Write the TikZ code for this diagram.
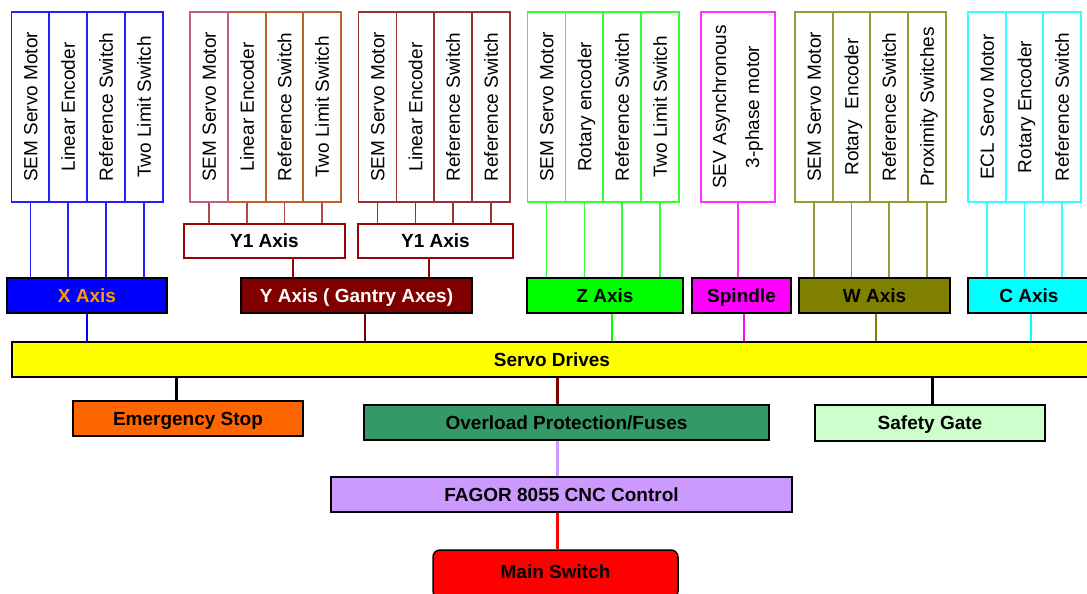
\documentclass[tikz,border=0pt]{standalone}
\usepackage{fontspec}
\setmainfont{Liberation Sans}
\definecolor{xcol}{HTML}{2020FF}
\definecolor{xfill}{HTML}{0000FF}
\definecolor{xtext}{HTML}{FF9900}
\definecolor{yapink}{HTML}{C06080}
\definecolor{yabrown}{HTML}{C0602A}
\definecolor{yaline}{HTML}{B04848}
\definecolor{ydark}{HTML}{990000}
\definecolor{yfill}{HTML}{800000}
\definecolor{ybcol}{HTML}{993333}
\definecolor{zcol}{HTML}{33FF33}
\definecolor{zfill}{HTML}{00FF00}
\definecolor{spcol}{HTML}{FF33FF}
\definecolor{spfill}{HTML}{FF00FF}
\definecolor{wcol}{HTML}{999933}
\definecolor{wfill}{HTML}{808000}
\definecolor{ccol}{HTML}{33FFFF}
\definecolor{cfill}{HTML}{00FFFF}
\definecolor{servofill}{HTML}{FFFF00}
\definecolor{emfill}{HTML}{FF6600}
\definecolor{ovfill}{HTML}{339966}
\definecolor{sgfill}{HTML}{CCFFCC}
\definecolor{fgfill}{HTML}{CC99FF}
\definecolor{msfill}{HTML}{FF0000}
\newcommand{\vtxt}[1]{\rotatebox{90}{\raisebox{0pt}[13.6pt][0pt]{#1}}}
\begin{document}
\begin{tikzpicture}[x=1pt,y=-1pt,
  every node/.style={font=\fontsize{19}{23}\selectfont},
  col/.style={draw, line width=1.5pt, minimum width=37.75pt,
    minimum height=190pt, inner sep=0pt},
  wire/.style={line width=1.2pt},
  axisbox/.style={draw=black, line width=1.5pt, minimum height=35pt, inner sep=0pt,
    text height=13.6pt, text depth=0pt,
    font=\fontsize{19}{23}\selectfont\bfseries},
  subbox/.style={draw=ydark, line width=2.2pt, fill=white, minimum height=34pt,
    inner sep=0pt, text height=13.6pt, text depth=0pt,
    font=\fontsize{19}{23}\selectfont\bfseries},
  feed/.style={line width=2pt},
  link/.style={line width=3pt}
]
\fill[white] (0,0) rectangle (1087,594);
\useasboundingbox (0,0) rectangle (1087,594);
\clip (0,0) rectangle (1087,594);

% ---------- X group ----------
\node[col, draw=xcol] (x1) at (30.5,107) {\vtxt{SEM Servo Motor}};
\node[col, draw=xcol] (x2) at (68,107) {\vtxt{Linear Encoder}};
\node[col, draw=xcol] (x3) at (106,107) {\vtxt{Reference Switch}};
\node[col, draw=xcol] (x4) at (144,107) {\vtxt{Two Limit Switch}};
\node[axisbox, fill=xfill, text=xtext, minimum width=160pt] (X) at (87,295.5) {X Axis};
\foreach \n in {x1,x2,x3,x4} \draw[wire, xcol] (\n.south) -- (\n.south |- X.north);

% ---------- Y group ----------
\node[col, draw=yabrown] (ya2) at (247,107) {\vtxt{Linear Encoder}};
\node[col, draw=yabrown] (ya3) at (284.5,107) {\vtxt{Reference Switch}};
\node[col, draw=yabrown] (ya4) at (322,107) {\vtxt{Two Limit Switch}};
\node[col, draw=yapink] (ya1) at (209,107) {\vtxt{SEM Servo Motor}};
\node[col, draw=ybcol] (yb1) at (377.5,107) {\vtxt{SEM Servo Motor}};
\node[col, draw=ybcol] (yb2) at (415.5,107) {\vtxt{Linear Encoder}};
\node[col, draw=ybcol] (yb3) at (453,107) {\vtxt{Reference Switch}};
\node[col, draw=ybcol] (yb4) at (491,107) {\vtxt{Reference Switch}};
\node[subbox, minimum width=161pt] (Y1a) at (264.5,241) {Y1 Axis};
\node[subbox, minimum width=155pt] (Y1b) at (435.5,241) {Y1 Axis};
\node[axisbox, fill=yfill, text=white, minimum width=231pt] (Y) at (356.5,295.5) {Y Axis ( Gantry Axes)};
\foreach \n in {ya1,ya2,ya3,ya4} \draw[wire, yaline] (\n.south) -- (\n.south |- Y1a.north);
\foreach \n in {yb1,yb2,yb3,yb4} \draw[wire, ybcol] (\n.south) -- (\n.south |- Y1b.north);
\draw[feed, ydark] ([xshift=28.5pt]Y1a.south) -- ([xshift=28.5pt]Y1a.south |- Y.north);
\draw[feed, ydark] ([xshift=-6.5pt]Y1b.south) -- ([xshift=-6.5pt]Y1b.south |- Y.north);

% ---------- Z group ----------
\node[col, draw=zcol] (z1) at (546.5,107) {\vtxt{SEM Servo Motor}};
\node[col, draw=zcol] (z2) at (584.5,107) {\vtxt{Rotary encoder}};
\node[col, draw=zcol] (z3) at (622,107) {\vtxt{Reference Switch}};
\node[col, draw=zcol] (z4) at (660,107) {\vtxt{Two Limit Switch}};
\node[axisbox, fill=zfill, minimum width=156pt] (Z) at (605,295.5) {Z Axis};
\foreach \n in {z1,z2,z3,z4} \draw[wire, zcol] (\n.south) -- (\n.south |- Z.north);

% ---------- Spindle ----------
\node[col, draw=spcol, minimum width=74pt] (sp) at (738,107)
  {\rotatebox{90}{\begin{tabular}{@{}c@{}}SEV Asynchronous\\[10pt]3-phase motor\end{tabular}}};
\node[axisbox, fill=spfill, minimum width=99pt] (SP) at (741.5,295.5) {Spindle};
\draw[wire, spcol] (sp.south) -- (sp.south |- SP.north);

% ---------- W group ----------
\node[col, draw=wcol] (w1) at (814,107) {\vtxt{SEM Servo Motor}};
\node[col, draw=wcol] (w2) at (851.5,107) {\vtxt{Rotary\ \ Encoder}};
\node[col, draw=wcol] (w3) at (889,107) {\vtxt{Reference Switch}};
\node[col, draw=wcol] (w4) at (927,107) {\vtxt{Proximity Switches}};
\node[axisbox, fill=wfill, minimum width=151pt] (W) at (874.5,295.5) {W Axis};
\foreach \n in {w1,w2,w3,w4} \draw[wire, wcol] (\n.south) -- (\n.south |- W.north);

% ---------- C group ----------
\node[col, draw=ccol] (c1) at (987,107) {\vtxt{ECL Servo Motor}};
\node[col, draw=ccol] (c2) at (1024.5,107) {\vtxt{Rotary Encoder}};
\node[col, draw=ccol] (c3) at (1062,107) {\vtxt{Reference Switch}};
\node[axisbox, fill=cfill, minimum width=122pt] (C) at (1029,295.5) {C Axis};
\foreach \n in {c1,c2,c3} \draw[wire, ccol] (\n.south) -- (\n.south |- C.north);

% ---------- Servo drives ----------
\node[axisbox, fill=servofill, minimum width=1080pt] (S) at (552,359.5) {Servo Drives};
\draw[feed, xfill] (X.south) -- (X.south |- S.north);
\draw[feed, yfill] ([xshift=8.5pt]Y.south) -- ([xshift=8.5pt]Y.south |- S.north);
\draw[feed, zfill] ([xshift=7pt]Z.south) -- ([xshift=7pt]Z.south |- S.north);
\draw[feed, spfill] ([xshift=2.5pt]SP.south) -- ([xshift=2.5pt]SP.south |- S.north);
\draw[feed, wfill] ([xshift=1.5pt]W.south) -- ([xshift=1.5pt]W.south |- S.north);
\draw[feed, cfill] ([xshift=2pt]C.south) -- ([xshift=2pt]C.south |- S.north);

% ---------- lower boxes ----------
\node[axisbox, fill=emfill, minimum width=230pt] (E) at (188,418.5) {Emergency Stop};
\node[axisbox, fill=ovfill, minimum width=405pt] (O) at (566.5,422.5) {Overload Protection/Fuses};
\node[axisbox, fill=sgfill, minimum width=230pt, minimum height=36pt] (G) at (930,423) {Safety Gate};
\node[axisbox, fill=fgfill, minimum width=461pt] (F) at (561.5,494.5) {FAGOR 8055 CNC Control};
\node[axisbox, fill=msfill, minimum width=245pt, minimum height=48pt, rounded corners=7pt] (M) at (555.5,574) {};
\node[font=\fontsize{19}{23}\selectfont\bfseries, text height=13.6pt, text depth=0pt, inner sep=0pt] (Mt) at (555.5,572) {Main Switch};

\draw[link, black] ([xshift=-12pt]E.north |- S.south) -- ([xshift=-12pt]E.north);
\draw[link, yfill] ([xshift=-9.5pt]O.north |- S.south) -- ([xshift=-9.5pt]O.north);
\draw[link, black] ([xshift=2pt]G.north |- S.south) -- ([xshift=2pt]G.north);
\draw[link, fgfill] ([xshift=-9.5pt]O.south) -- ([xshift=-9.5pt]O.south |- F.north);
\draw[link, msfill] ([xshift=-9.5pt]O.south |- F.south) -- ([xshift=-9.5pt]O.south |- M.north);
\end{tikzpicture}
\end{document}
